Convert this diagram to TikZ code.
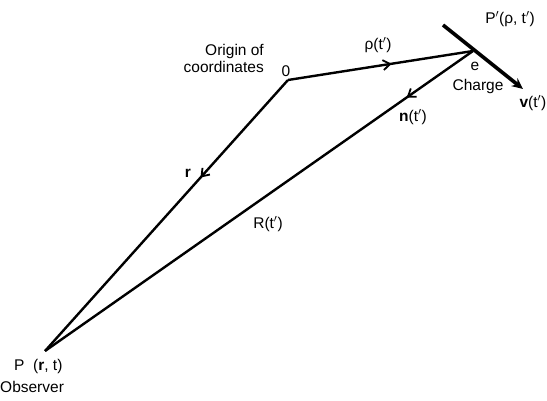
\documentclass[tikz,border=0pt]{standalone}
\usepackage{fontspec}
\setmainfont{Liberation Sans}
\usetikzlibrary{arrows.meta,decorations.markings}
\begin{document}
\begin{tikzpicture}[x=1pt,y=-1pt,
  vec/.style={line width=2.4pt},
  midarrow/.style={postaction={decorate},decoration={markings,mark=at position #1 with {\arrow{Straight Barb[length=7pt,width=10pt,line width=1.8pt]}}}},
  lbl/.style={font=\fontsize{15.5}{17}\selectfont, inner sep=0pt}]
\useasboundingbox (0,0) rectangle (547,401);
\coordinate (O) at (288,80);
\coordinate (C) at (473,51);
\coordinate (P) at (45,351);
\coordinate (V0) at (443,25);
\coordinate (V1) at (523,89);
\draw[vec, midarrow=0.56] (O) -- (C);
\draw[vec, midarrow=0.36] (O) -- (P);
\draw[vec, midarrow=0.155] (C) -- (P);
\draw[line width=3.6pt, -{Stealth[length=11pt,width=10pt]}] (V0) -- (V1);
\node[lbl, align=right, anchor=east] (orig) at (264,58) {Origin of\\coordinates};
\node[lbl] (zero) at (286,71) {0};
\node[lbl] (rho) at (378,45) {ρ(t$'$)};
\node[lbl] (Pp) at (510,19) {P$'$(ρ, t$'$)};
\node[lbl] (e) at (475,66) {e};
\node[lbl] (chg) at (478,86) {Charge};
\node[lbl] (v) at (533,103) {\textbf{v}(t$'$)};
\node[lbl] (n) at (413,117) {\textbf{n}(t$'$)};
\node[lbl] (r) at (188,173) {\textbf{r}};
\node[lbl] (R) at (268,224) {R(t$'$)};
\node[lbl, anchor=west] (Pl) at (14,366) {P\ \ (\textbf{r}, t)};
\node[lbl, anchor=west] (obs) at (0,387) {Observer};
\end{tikzpicture}
\end{document}
